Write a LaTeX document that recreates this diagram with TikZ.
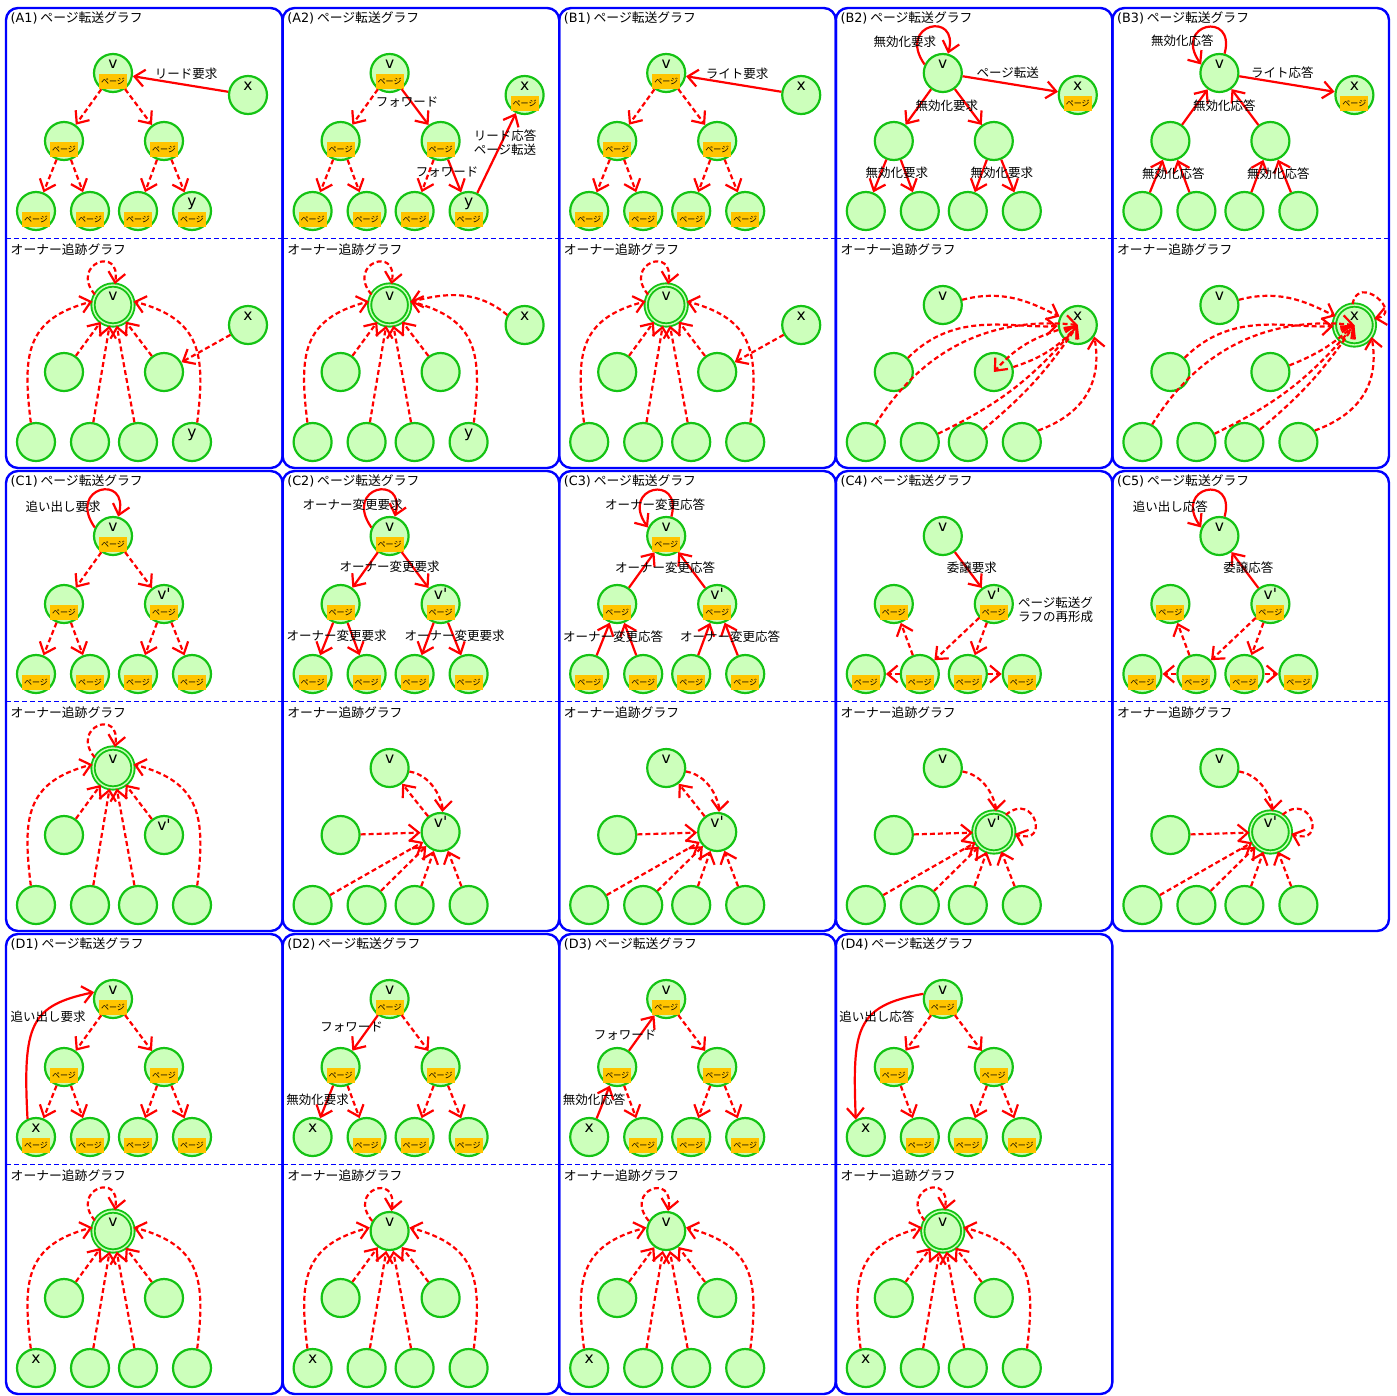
\documentclass[tikz,border=0pt]{standalone}
\usepackage{fontspec}
\setmainfont{Noto Sans CJK JP}
\newfontfamily\lat{DejaVu Sans}[Ligatures=TeXOff]
\usetikzlibrary{arrows.meta}
\definecolor{ngreen}{RGB}{20,195,20}
\definecolor{nfill}{RGB}{204,255,187}
\definecolor{porange}{RGB}{255,196,0}
\definecolor{fblue}{RGB}{0,0,255}
\definecolor{ared}{RGB}{255,0,0}
\tikzset{
  nd/.style={circle, draw=ngreen, fill=nfill, line width=2.2pt, minimum size=38pt, inner sep=0pt},
  dnd/.style={nd, line width=1.9pt, double=nfill, double distance=1.4pt, minimum size=40pt},
  pgbox/.style={fill=porange, minimum width=28pt, minimum height=15pt, inner sep=0pt, font=\fontsize{8}{8}\selectfont},
  ltr/.style={anchor=base, inner sep=0pt, font=\lat\fontsize{15.5}{15.5}\selectfont},
  lbl/.style={inner sep=0pt, font=\fontsize{12.5}{14}\selectfont},
  ttl/.style={anchor=west, inner sep=0pt, font=\fontsize{12.8}{14}\selectfont},
  sa/.style={draw=ared, line width=2.2pt, -{Straight Barb[length=10pt,width=17pt]}},
  da/.style={sa, dash pattern=on 5pt off 3pt},
  frm/.style={draw=fblue, line width=2.4pt, rounded corners=12pt},
  sepl/.style={draw=fblue, line width=1.8pt, dash pattern=on 5pt off 3pt},
}
\newcommand\panelframe[2]{%
  \draw[frm] (0,0) rectangle (276.6,-460);
  \draw[sepl] (0,-230.5) -- (276.6,-230.5);
  \node[ttl] (#1-t1) at (4.5,-10) {#2};
  \node[ttl] (#1-t2) at (4.5,-241.5) {オーナー追跡グラフ};}
\newcommand\upnodes[1]{%
  \node[#1] (v) at (107,-65) {};
  \node[nd] (L) at (58,-133) {};
  \node[nd] (R) at (158,-133) {};
  \node[nd] (a) at (30,-203) {};
  \node[nd] (b) at (84,-203) {};
  \node[nd] (c) at (132,-203) {};
  \node[nd] (d) at (186,-203) {};}
\newcommand\lownodes[3]{%
  \node[#1] (v) at (107,-297) {};
  \node[nd] (L) at (58,-364) {};
  \node[#2] (R) at (158,-#3) {};
  \node[nd] (a) at (30,-434) {};
  \node[nd] (b) at (84,-434) {};
  \node[nd] (c) at (132,-434) {};
  \node[nd] (d) at (186,-434) {};}
\newcommand\pages[1]{\foreach \n in {#1}{\node[pgbox] (\n-pg) at ([yshift=-8pt]\n.center) {ページ};}}
\newcommand\mklet[2]{\node[ltr] (#1-lt) at ([yshift=4.5pt]#1.center) {#2};}
\newcommand\treedown[1]{%
  \draw[#1] (v)--(L); \draw[#1] (v)--(R);
  \draw[#1] (L)--(a); \draw[#1] (L)--(b);
  \draw[#1] (R)--(c); \draw[#1] (R)--(d);}
\newcommand\treeup[1]{%
  \draw[#1] (L)--(v); \draw[#1] (R)--(v);
  \draw[#1] (a)--(L); \draw[#1] (b)--(L);
  \draw[#1] (c)--(R); \draw[#1] (d)--(R);}
\newcommand\loopcw{\draw[sa] (v.155) .. controls +(125:50) and +(75:45) .. (v.75);}
\newcommand\loopccw{\draw[sa] (v.75) .. controls +(75:45) and +(125:50) .. (v.155);}
\newcommand\tovstd{%
  \draw[da] (L) -- (v); \draw[da] (R) -- (v);
  \draw[da] (b) -- (v); \draw[da] (c) -- (v);
  \draw[da] (a.105) to[out=97, in=195, looseness=1.3] (v.170);
  \draw[da] (d.75) to[out=83, in=-15, looseness=1.3] (v.10);
  \draw[da] (v.150) .. controls +(130:40) and +(80:40) .. (v.85);}
\newcommand\tox{%
  \draw[da] (v) to[out=15,in=155] (x);
  \draw[da] (L) to[out=45,in=183] (x);
  \draw[da] (a) to[bend left=32] (x);
  \draw[da] (b) to[bend right=12] (x);
  \draw[da] (c) to[bend right=8] (x);
  \draw[da] (d.35) .. controls +(20:50) and +(-80:45) .. (x.-35);}
\newcommand\tovp{%
  \draw[da] (v) to[out=-10,in=85] (R);
  \draw[da] (L)--(R); \draw[da] (a)--(R); \draw[da] (b)--(R);
  \draw[da] (c)--(R); \draw[da] (d)--(R);}
\newcommand\reform{%
  \draw[da] (R)--(b); \draw[da] (R)--(c); \draw[da] (b)--(L);
  \draw[da] (b)--(a); \draw[da] (c)--(d);}
\begin{document}
\begin{tikzpicture}[x=1pt,y=1pt]
\useasboundingbox (0,0) rectangle (1397,-1395);
\fill[white] (0,0) rectangle (1397,-1395);

% ---------------- A1
\begin{scope}[shift={(6,-8)}]
\panelframe{A1}{{\lat (A1)} ページ転送グラフ}
\begin{scope}[name prefix=A1u-]
\upnodes{nd}
\node[nd] (x) at (242,-87) {};
\pages{v,L,R,a,b,c,d}
\mklet{v}{v}\mklet{d}{y}\mklet{x}{x}
\treedown{da}
\draw[sa] (x)--(v);
\node[lbl] (m1) at (180,-66) {リード要求};
\end{scope}
\begin{scope}[name prefix=A1l-]
\lownodes{dnd}{nd}{364}
\node[nd] (x) at (242,-317) {};
\mklet{v}{v}\mklet{d}{y}\mklet{x}{x}
\tovstd
\draw[da] (x)--(R);
\end{scope}
\end{scope}

% ---------------- A2
\begin{scope}[shift={(282.6,-8)}]
\panelframe{A2}{{\lat (A2)} ページ転送グラフ}
\begin{scope}[name prefix=A2u-]
\upnodes{nd}
\node[nd] (x) at (242,-87) {};
\pages{v,L,R,a,b,c,d,x}
\mklet{v}{v}\mklet{d}{y}\mklet{x}{x}
\draw[da] (v)--(L); \draw[da] (L)--(a); \draw[da] (L)--(b); \draw[da] (R)--(c);
\draw[sa] (v)--(R); \draw[sa] (R)--(d); \draw[sa] (d)--(x);
\node[lbl] (m1) at (124.4,-94) {フォワード};
\node[lbl] (m2) at (164.4,-164) {フォワード};
\node[lbl,align=left] (m3) at (222.4,-135) {リード応答\\ページ転送};
\end{scope}
\begin{scope}[name prefix=A2l-]
\lownodes{dnd}{nd}{364}
\node[nd] (x) at (242,-317) {};
\mklet{v}{v}\mklet{d}{y}\mklet{x}{x}
\tovstd
\draw[da] (x.150) to[out=140, in=15] (v.8);
\end{scope}
\end{scope}

% ---------------- B1
\begin{scope}[shift={(559.2,-8)}]
\panelframe{B1}{{\lat (B1)} ページ転送グラフ}
\begin{scope}[name prefix=B1u-]
\upnodes{nd}
\node[nd] (x) at (242,-87) {};
\pages{v,L,R,a,b,c,d}
\mklet{v}{v}\mklet{x}{x}
\treedown{da}
\draw[sa] (x)--(v);
\node[lbl] (m1) at (178,-66) {ライト要求};
\end{scope}
\begin{scope}[name prefix=B1l-]
\lownodes{dnd}{nd}{364}
\node[nd] (x) at (242,-317) {};
\mklet{v}{v}\mklet{x}{x}
\tovstd
\draw[da] (x)--(R);
\end{scope}
\end{scope}

% ---------------- B2
\begin{scope}[shift={(835.8,-8)}]
\panelframe{B2}{{\lat (B2)} ページ転送グラフ}
\begin{scope}[name prefix=B2u-]
\upnodes{nd}
\node[nd] (x) at (242,-87) {};
\pages{x}
\mklet{v}{v}\mklet{x}{x}
\loopcw
\draw[sa] (v)--(x);
\treedown{sa}
\node[lbl] (m1) at (69,-34) {無効化要求};
\node[lbl] (m2) at (172,-65) {ページ転送};
\node[lbl] (m3) at (111,-98) {無効化要求};
\node[lbl] (m4) at (61,-165) {無効化要求};
\node[lbl] (m5) at (166,-165) {無効化要求};
\end{scope}
\begin{scope}[name prefix=B2l-]
\lownodes{nd}{nd}{364}
\node[nd] (x) at (242,-317) {};
\mklet{v}{v}\mklet{x}{x}
\tox
\draw[da] (x) to[bend right=15] (R);
\draw[da] (R) to[bend right=15] (x);
\end{scope}
\end{scope}

% ---------------- B3
\begin{scope}[shift={(1112.4,-8)}]
\panelframe{B3}{{\lat (B3)} ページ転送グラフ}
\begin{scope}[name prefix=B3u-]
\upnodes{nd}
\node[nd] (x) at (242,-87) {};
\pages{x}
\mklet{v}{v}\mklet{x}{x}
\loopccw
\draw[sa] (v)--(x);
\treeup{sa}
\node[lbl] (m1) at (70,-33) {無効化応答};
\node[lbl] (m2) at (170,-65) {ライト応答};
\node[lbl] (m3) at (112,-98) {無効化応答};
\node[lbl] (m4) at (61,-166) {無効化応答};
\node[lbl] (m5) at (166,-166) {無効化応答};
\end{scope}
\begin{scope}[name prefix=B3l-]
\lownodes{nd}{nd}{364}
\node[dnd] (x) at (242,-317) {};
\mklet{v}{v}\mklet{x}{x}
\tox
\draw[da] (R) to[bend right=10] (x);
\draw[da] (x.95) .. controls +(80:32) and +(10:30) .. (x.18);
\end{scope}
\end{scope}

% ---------------- C1
\begin{scope}[shift={(6,-471)}]
\panelframe{C1}{{\lat (C1)} ページ転送グラフ}
\begin{scope}[name prefix=C1u-]
\upnodes{nd}
\pages{v,L,R,a,b,c,d}
\mklet{v}{v}\mklet{R}{v'}
\loopcw
\treedown{da}
\node[lbl] (m1) at (57,-36) {追い出し要求};
\end{scope}
\begin{scope}[name prefix=C1l-]
\lownodes{dnd}{nd}{364}
\mklet{v}{v}\mklet{R}{v'}
\tovstd
\end{scope}
\end{scope}

% ---------------- C2
\begin{scope}[shift={(282.6,-471)}]
\panelframe{C2}{{\lat (C2)} ページ転送グラフ}
\begin{scope}[name prefix=C2u-]
\upnodes{nd}
\pages{v,L,R,a,b,c,d}
\mklet{v}{v}\mklet{R}{v'}
\loopcw
\treedown{sa}
\node[lbl] (m1) at (70,-34) {オーナー変更要求};
\node[lbl] (m2) at (107,-96) {オーナー変更要求};
\node[lbl] (m3) at (54,-165) {オーナー変更要求};
\node[lbl] (m4) at (172,-165) {オーナー変更要求};
\end{scope}
\begin{scope}[name prefix=C2l-]
\lownodes{nd}{nd}{361}
\mklet{v}{v}\mklet{R}{v'}
\tovp
\draw[da] (R) -- (v);
\end{scope}
\end{scope}

% ---------------- C3
\begin{scope}[shift={(559.2,-471)}]
\panelframe{C3}{{\lat (C3)} ページ転送グラフ}
\begin{scope}[name prefix=C3u-]
\upnodes{nd}
\pages{v,L,R,a,b,c,d}
\mklet{v}{v}\mklet{R}{v'}
\loopccw
\treeup{sa}
\node[lbl] (m1) at (96,-34) {オーナー変更応答};
\node[lbl] (m2) at (106,-97) {オーナー変更応答};
\node[lbl] (m3) at (54,-166) {オーナー変更応答};
\node[lbl] (m4) at (171,-166) {オーナー変更応答};
\end{scope}
\begin{scope}[name prefix=C3l-]
\lownodes{nd}{nd}{361}
\mklet{v}{v}\mklet{R}{v'}
\tovp
\draw[da] (R) -- (v);
\end{scope}
\end{scope}

% ---------------- C4
\begin{scope}[shift={(835.8,-471)}]
\panelframe{C4}{{\lat (C4)} ページ転送グラフ}
\begin{scope}[name prefix=C4u-]
\upnodes{nd}
\pages{L,R,a,b,c,d}
\mklet{v}{v}\mklet{R}{v'}
\draw[sa] (v)--(R);
\reform
\node[lbl] (m1) at (136,-97) {委譲要求};
\node[lbl,anchor=west,align=left] (m2) at (182,-139) {ページ転送グ\\ラフの再形成};
\end{scope}
\begin{scope}[name prefix=C4l-]
\lownodes{nd}{dnd}{361}
\mklet{v}{v}\mklet{R}{v'}
\tovp
\draw[da] (R.55) .. controls +(40:38) and +(-20:38) .. (R.-5);
\end{scope}
\end{scope}

% ---------------- C5
\begin{scope}[shift={(1112.4,-471)}]
\panelframe{C5}{{\lat (C5)} ページ転送グラフ}
\begin{scope}[name prefix=C5u-]
\upnodes{nd}
\pages{L,R,a,b,c,d}
\mklet{v}{v}\mklet{R}{v'}
\loopccw
\draw[sa] (R)--(v);
\reform
\node[lbl] (m1) at (58,-36) {追い出し応答};
\node[lbl] (m2) at (136,-97) {委譲応答};
\end{scope}
\begin{scope}[name prefix=C5l-]
\lownodes{nd}{dnd}{361}
\mklet{v}{v}\mklet{R}{v'}
\tovp
\draw[da] (R.55) .. controls +(40:38) and +(-20:38) .. (R.-5);
\end{scope}
\end{scope}

% ---------------- D1
\begin{scope}[shift={(6,-934)}]
\panelframe{D1}{{\lat (D1)} ページ転送グラフ}
\begin{scope}[name prefix=D1u-]
\upnodes{nd}
\pages{v,L,R,a,b,c,d}
\mklet{v}{v}\mklet{a}{x}
\treedown{da}
\draw[sa] (a.115) .. controls +(93:95) and +(192:65) .. (v.160);
\node[lbl] (m1) at (42,-83) {追い出し要求};
\end{scope}
\begin{scope}[name prefix=D1l-]
\lownodes{dnd}{nd}{364}
\mklet{v}{v}\mklet{a}{x}
\tovstd
\end{scope}
\end{scope}

% ---------------- D2
\begin{scope}[shift={(282.6,-934)}]
\panelframe{D2}{{\lat (D2)} ページ転送グラフ}
\begin{scope}[name prefix=D2u-]
\upnodes{nd}
\pages{v,L,R,b,c,d}
\mklet{v}{v}\mklet{a}{x}
\draw[sa] (v)--(L); \draw[sa] (L)--(a);
\draw[da] (v)--(R); \draw[da] (L)--(b); \draw[da] (R)--(c); \draw[da] (R)--(d);
\node[lbl] (m1) at (69,-93) {フォワード};
\node[lbl] (m2) at (35,-166) {無効化要求};
\end{scope}
\begin{scope}[name prefix=D2l-]
\lownodes{nd}{nd}{364}
\mklet{v}{v}\mklet{a}{x}
\tovstd
\end{scope}
\end{scope}

% ---------------- D3
\begin{scope}[shift={(559.2,-934)}]
\panelframe{D3}{{\lat (D3)} ページ転送グラフ}
\begin{scope}[name prefix=D3u-]
\upnodes{nd}
\pages{v,L,R,b,c,d}
\mklet{v}{v}\mklet{a}{x}
\draw[sa] (a)--(L); \draw[sa] (L)--(v);
\draw[da] (v)--(R); \draw[da] (L)--(b); \draw[da] (R)--(c); \draw[da] (R)--(d);
\node[lbl] (m1) at (66,-101) {フォワード};
\node[lbl] (m2) at (35,-166) {無効化応答};
\end{scope}
\begin{scope}[name prefix=D3l-]
\lownodes{nd}{nd}{364}
\mklet{v}{v}\mklet{a}{x}
\tovstd
\end{scope}
\end{scope}

% ---------------- D4
\begin{scope}[shift={(835.8,-934)}]
\panelframe{D4}{{\lat (D4)} ページ転送グラフ}
\begin{scope}[name prefix=D4u-]
\upnodes{nd}
\pages{v,L,R,b,c,d}
\mklet{v}{v}\mklet{a}{x}
\draw[da] (v)--(L); \draw[da] (v)--(R); \draw[da] (L)--(b); \draw[da] (R)--(c); \draw[da] (R)--(d);
\draw[sa] (v.165) .. controls +(190:70) and +(92:90) .. (a.120);
\node[lbl] (m1) at (41,-83) {追い出し応答};
\end{scope}
\begin{scope}[name prefix=D4l-]
\lownodes{dnd}{nd}{364}
\mklet{v}{v}\mklet{a}{x}
\tovstd
\end{scope}
\end{scope}

\end{tikzpicture}
\end{document}
